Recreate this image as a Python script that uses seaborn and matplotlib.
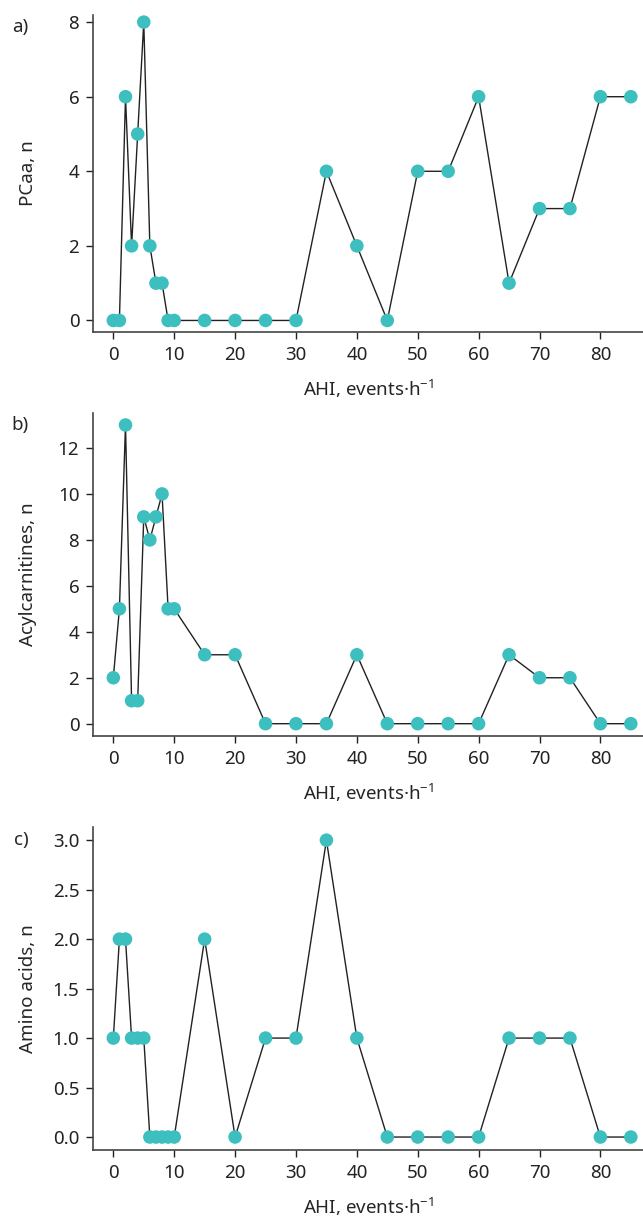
import seaborn as sns
import matplotlib.pyplot as plt
import pandas as pd

# AHI values (events per hour)
ahi = [0, 1, 2, 3, 4, 5, 6, 7, 8, 9, 10, 15, 20, 25, 30, 35, 40, 45, 50, 55, 60, 65, 70, 75, 80, 85]

pcaa = [0, 0, 6, 2, 5, 8, 2, 1, 1, 0, 0, 0, 0, 0, 0, 4, 2, 0, 4, 4, 6, 1, 3, 3, 6, 6]
acylcarnitines = [2, 5, 13, 1, 1, 9, 8, 9, 10, 5, 5, 3, 3, 0, 0, 0, 3, 0, 0, 0, 0, 3, 2, 2, 0, 0]
amino_acids = [1, 2, 2, 1, 1, 1, 0, 0, 0, 0, 0, 2, 0, 1, 1, 3, 1, 0, 0, 0, 0, 1, 1, 1, 0, 0]

panel_letters = ["a)", "b)", "c)"]
y_labels = ["PCaa, n", "Acylcarnitines, n", "Amino acids, n"]
x_label = "AHI, events·h$^{-1}$"

sns.set_theme(style="ticks")
plt.rcParams["font.family"] = ["Noto Sans", "DejaVu Sans"]
plt.rcParams["mathtext.default"] = "regular"

FS = 13.5
teal = "#3dbfbf"

fig = plt.figure(figsize=(6.43, 12.22), dpi=100)
# [left, bottom, width, height] in figure fraction
boxes = [
    [0.145, 0.728, 0.855, 0.260],
    [0.145, 0.398, 0.855, 0.264],
    [0.145, 0.059, 0.855, 0.264],
]
series = [pcaa, acylcarnitines, amino_acids]
ylims = [(-0.32, 8.2), (-0.52, 13.52), (-0.13, 3.13)]
yticks = [[0, 2, 4, 6, 8], [0, 2, 4, 6, 8, 10, 12], [0.0, 0.5, 1.0, 1.5, 2.0, 2.5, 3.0]]

for box, vals, letter, ylab, ylim, yt in zip(boxes, series, panel_letters, y_labels, ylims, yticks):
    ax = fig.add_axes(box)
    df = pd.DataFrame({"AHI": ahi, "n": vals})
    sns.lineplot(data=df, x="AHI", y="n", color="#222222", linewidth=1.0, ax=ax)
    sns.scatterplot(data=df, x="AHI", y="n", color=teal, s=95, edgecolor="none",
                    ax=ax, zorder=3)
    ax.set_xlim(-3.3, 87)
    ax.set_ylim(*ylim)
    ax.set_xticks(range(0, 90, 10))
    ax.set_yticks(yt)
    if letter == "c)":
        ax.set_yticklabels([f"{v:.1f}" for v in yt])
    ax.set_xlabel(x_label, fontsize=FS, labelpad=10)
    ax.set_ylabel(ylab, fontsize=FS)
    ax.yaxis.set_label_coords(-0.102, 0.5)
    ax.tick_params(labelsize=FS, length=5, width=1, colors="#222222", pad=5)
    for sp in ["left", "bottom"]:
        ax.spines[sp].set_color("#444444")
        ax.spines[sp].set_linewidth(1.2)
    sns.despine(ax=ax)
    ax.text(-0.118, 0.99, letter, transform=ax.transAxes, fontsize=FS,
            ha="right", va="top")

fig.savefig("out.png", dpi=100)
